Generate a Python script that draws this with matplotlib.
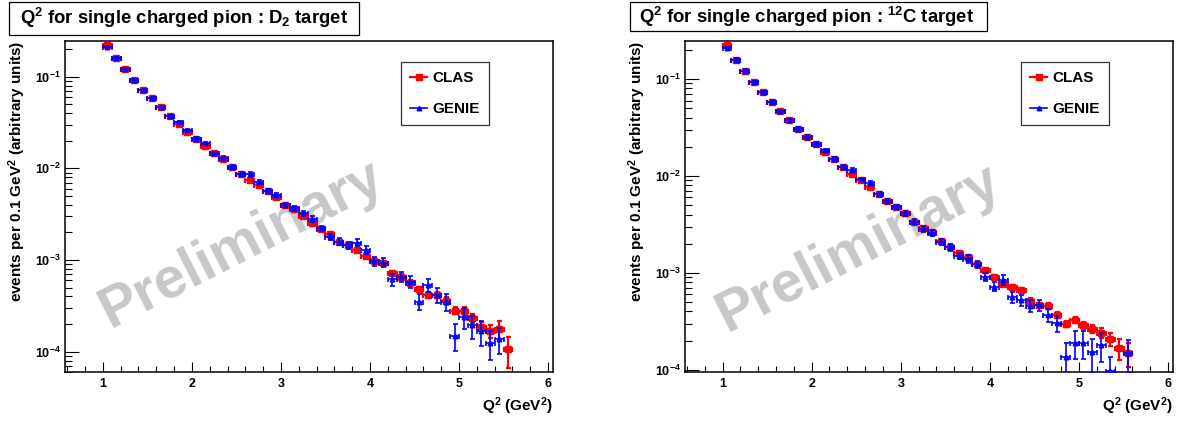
import numpy as np
import matplotlib
matplotlib.use("Agg")
import matplotlib.pyplot as plt
from matplotlib.patches import Rectangle
from matplotlib.lines import Line2D
from matplotlib.ticker import LogLocator, MultipleLocator, FuncFormatter, NullFormatter

plt.rcParams['font.family'] = ['Liberation Sans', 'DejaVu Sans']
plt.rcParams['font.weight'] = 'bold'
plt.rcParams['mathtext.fontset'] = 'custom'
plt.rcParams['mathtext.rm'] = 'Liberation Sans:bold'
plt.rcParams['mathtext.bf'] = 'Liberation Sans:bold'
plt.rcParams['mathtext.it'] = 'Liberation Sans:bold'
plt.rcParams['mathtext.default'] = 'bf'

# ---------------- data ----------------
bin_centers = [1.05, 1.15, 1.25, 1.35, 1.45, 1.55, 1.65, 1.75, 1.85, 1.95,
               2.05, 2.15, 2.25, 2.35, 2.45, 2.55, 2.65, 2.75, 2.85, 2.95,
               3.05, 3.15, 3.25, 3.35, 3.45, 3.55, 3.65, 3.75, 3.85, 3.95,
               4.05, 4.15, 4.25, 4.35, 4.45, 4.55, 4.65, 4.75, 4.85, 4.95,
               5.05, 5.15, 5.25, 5.35, 5.45, 5.55]
bin_half_width = 0.05

# D2 target
d2_clas = [0.222, 0.158, 0.120, 0.092, 0.0716, 0.058, 0.0464, 0.0372, 0.0305, 0.0249,
           0.0211, 0.01754, 0.01459, 0.01256, 0.01045, 0.00869, 0.00747, 0.00659, 0.00567, 0.00487,
           0.00398, 0.00360, 0.00302, 0.00256, 0.00218, 0.00191, 0.00159, 0.00146, 0.00129, 0.00111,
           0.000977, 0.00092, 0.000728, 0.000659, 0.000566, 0.000480, 0.000416, 0.000416, 0.000361, 0.000281,
           0.000281, 0.000232, 0.000188, 0.000169, 0.000176, 0.000106]
d2_clas_relerr = [0.02, 0.02, 0.02, 0.02, 0.02, 0.02, 0.02, 0.02, 0.02, 0.02,
                  0.02, 0.02, 0.02, 0.02, 0.02, 0.02, 0.02, 0.02, 0.02, 0.02,
                  0.03, 0.03, 0.03, 0.03, 0.03, 0.04, 0.04, 0.04, 0.04, 0.04,
                  0.05, 0.05, 0.05, 0.06, 0.06, 0.07, 0.07, 0.08, 0.08, 0.09,
                  0.10, 0.11, 0.13, 0.16, 0.22, 0.37]
d2_genie = [0.209, 0.158, 0.120, 0.092, 0.0716, 0.058, 0.0464, 0.0372, 0.0321, 0.0262,
            0.0211, 0.01875, 0.01459, 0.01309, 0.01045, 0.00869, 0.00869, 0.0071, 0.00567, 0.00516,
            0.00398, 0.00366, 0.00323, 0.00281, 0.00222, 0.00180, 0.00159, 0.00146, 0.00155, 0.00129,
            0.000977, 0.000937, 0.000616, 0.000659, 0.000581, 0.000352, 0.000535, 0.000416, 0.000352, 0.000150,
            0.000238, 0.000193, 0.000166, 0.000124, 0.000137, np.nan]
d2_genie_relerr = [0.03, 0.03, 0.03, 0.03, 0.03, 0.03, 0.03, 0.03, 0.03, 0.03,
                   0.03, 0.03, 0.04, 0.04, 0.04, 0.04, 0.05, 0.05, 0.05, 0.05,
                   0.06, 0.06, 0.07, 0.07, 0.07, 0.08, 0.08, 0.09, 0.09, 0.10,
                   0.11, 0.11, 0.15, 0.13, 0.14, 0.20, 0.17, 0.18, 0.22, 0.33,
                   0.26, 0.28, 0.30, 0.35, 0.32, np.nan]

# 12C target
c12_clas = [0.224, 0.158, 0.122, 0.0931, 0.0729, 0.0583, 0.0468, 0.0378, 0.0308, 0.0254,
            0.0215, 0.0178, 0.0150, 0.01247, 0.0105, 0.0091, 0.00764, 0.00652, 0.00548, 0.00483,
            0.00412, 0.00338, 0.00289, 0.00262, 0.00214, 0.00187, 0.00162, 0.00145, 0.00123, 0.00106,
            0.000902, 0.000770, 0.000712, 0.000668, 0.000519, 0.000461, 0.000457, 0.000369, 0.000298, 0.000327,
            0.000288, 0.000265, 0.000241, 0.000209, 0.000168, 0.000149]
c12_clas_relerr = [0.02, 0.02, 0.02, 0.02, 0.02, 0.02, 0.02, 0.02, 0.02, 0.02,
                   0.02, 0.02, 0.02, 0.02, 0.02, 0.02, 0.02, 0.02, 0.02, 0.02,
                   0.03, 0.03, 0.03, 0.03, 0.03, 0.03, 0.04, 0.04, 0.04, 0.04,
                   0.05, 0.05, 0.05, 0.05, 0.06, 0.06, 0.07, 0.07, 0.07, 0.07,
                   0.08, 0.10, 0.12, 0.16, 0.24, 0.28]
c12_genie = [0.210, 0.158, 0.122, 0.0931, 0.0729, 0.0583, 0.0468, 0.0378, 0.0308, 0.0254,
             0.0215, 0.0185, 0.0150, 0.01247, 0.01153, 0.00925, 0.00853, 0.00652, 0.00548, 0.00483,
             0.00412, 0.00338, 0.00285, 0.00258, 0.00210, 0.00183, 0.00150, 0.00139, 0.00123, 0.000916,
             0.000723, 0.000847, 0.000561, 0.000527, 0.000457, 0.000461, 0.000365, 0.000303, 0.000137, 0.000191,
             0.000191, 0.000151, 0.000181, 0.0000977, np.nan, 0.000149]
c12_genie_relerr = [0.03, 0.03, 0.03, 0.03, 0.03, 0.03, 0.03, 0.03, 0.03, 0.03,
                    0.03, 0.03, 0.04, 0.04, 0.04, 0.04, 0.05, 0.05, 0.05, 0.05,
                    0.06, 0.06, 0.07, 0.07, 0.07, 0.08, 0.08, 0.09, 0.09, 0.10,
                    0.11, 0.11, 0.12, 0.13, 0.14, 0.13, 0.15, 0.18, 0.37, 0.32,
                    0.32, 0.38, 0.33, 0.40, np.nan, 0.37]

panels = [
    dict(title=r"Q$^{2}$ for single charged pion : D$_{2}$ target",
         clas=d2_clas, clas_err=d2_clas_relerr, genie=d2_genie, genie_err=d2_genie_relerr,
         ylim=(6.0e-5, 0.245)),
    dict(title=r"Q$^{2}$ for single charged pion : $^{12}$C target",
         clas=c12_clas, clas_err=c12_clas_relerr, genie=c12_genie, genie_err=c12_genie_relerr,
         ylim=(9.5e-5, 0.2466)),
]
series_labels = ["CLAS", "GENIE"]
xlabel = r"Q$^{2}$ (GeV$^{2}$)"
ylabel = r"events per 0.1 GeV$^{2}$ (arbitrary units)"
watermark = "Preliminary"

# ---------------- layout ----------------
W, H = 1181, 421
fig = plt.figure(figsize=(W / 100, H / 100), dpi=100)

axes_px = [(65, 553), (684.7, 1173)]
top_px, bot_px = 41, 372
title_boxes = [(9, 2, 359, 35, 184, 24), (630, 2, 987, 31, 807, 23)]
wm_pos = [(0.361, 0.385), (0.355, 0.372)]

x = np.array(bin_centers)
for i, p in enumerate(panels):
    l, r = axes_px[i]
    ax = fig.add_axes([l / W, 1 - bot_px / H, (r - l) / W, (bot_px - top_px) / H])
    ax.set_yscale('log')
    ax.set_xlim(0.575, 6.055)
    ax.set_ylim(*p['ylim'])

    cl = np.array(p['clas']); ce = np.array(p['clas_err'])
    gn = np.array(p['genie']); ge = np.array(p['genie_err'])
    ax.errorbar(x, cl, yerr=cl * ce, xerr=bin_half_width, fmt='s', color='#ff0000',
                ms=3.8, elinewidth=1.6, capsize=1.8, capthick=1.6, zorder=3)
    m = ~np.isnan(gn)
    ax.errorbar(x[m], gn[m], yerr=gn[m] * ge[m], xerr=bin_half_width, fmt='^', color='#0000ff',
                ms=3.3, elinewidth=1.2, capsize=1.8, capthick=1.2, zorder=4)

    ax.text(wm_pos[i][0], wm_pos[i][1], watermark, transform=ax.transAxes, rotation=27,
            fontsize=41, fontweight='bold', color='#c8c8c8', ha='center', va='center', zorder=1)

    for s in ax.spines.values():
        s.set_linewidth(1.1)
    ax.xaxis.set_major_locator(MultipleLocator(1))
    ax.xaxis.set_minor_locator(MultipleLocator(0.2))
    ax.yaxis.set_major_locator(LogLocator(base=10, numticks=20))
    ax.yaxis.set_minor_locator(LogLocator(base=10, subs=np.arange(2, 10), numticks=20))
    ax.yaxis.set_minor_formatter(NullFormatter())
    ax.yaxis.set_major_formatter(FuncFormatter(lambda v, pos: r"$10^{%d}$" % int(round(np.log10(v)))))
    ax.xaxis.set_major_formatter(FuncFormatter(lambda v, pos: "%d" % int(round(v))))
    ax.tick_params(axis='x', which='major', direction='in', length=7.5, width=0.8, labelsize=9, pad=4)
    ax.tick_params(axis='x', which='minor', direction='in', length=4, width=0.8)
    ax.tick_params(axis='y', which='major', direction='in', length=10, width=0.8, labelsize=9, pad=3)
    ax.tick_params(axis='y', which='minor', direction='in', length=5, width=0.8)
    for lab in ax.get_xticklabels() + ax.get_yticklabels():
        lab.set_fontweight('bold')

    ax.set_xlabel(xlabel, fontsize=11, fontweight='bold', loc='right')
    ax.xaxis.set_label_coords(1.0, -0.072)
    ax.set_ylabel(ylabel, fontsize=11, fontweight='bold', loc='top', va='center')
    ax.yaxis.set_label_coords(-0.097, 1.0)

    handles = [Line2D([], [], color='#ff0000', marker='s', ms=3.8, lw=1.6),
               Line2D([], [], color='#0000ff', marker='^', ms=3.3, lw=1.2)]
    leg = ax.legend(handles, series_labels, loc='upper left', bbox_to_anchor=(0.688, 0.9375),
                    borderaxespad=0, frameon=True, fancybox=False, edgecolor='black',
                    handlelength=1.1, handletextpad=0.35, labelspacing=1.1, borderpad=0.62,
                    prop={'weight': 'bold', 'size': 11})
    leg.get_frame().set_linewidth(0.9)
    leg.set_zorder(5)

    x0, y0, x1, y1, tcx, tby = title_boxes[i]
    fig.patches.append(Rectangle((x0 / W, 1 - y1 / H), (x1 - x0) / W, (y1 - y0) / H,
                                 transform=fig.transFigure, fill=True, facecolor='white',
                                 edgecolor='black', linewidth=0.9))
    fig.text(tcx / W, 1 - tby / H, p['title'], ha='center', va='baseline',
             fontsize=13.3, fontweight='bold')

fig.savefig("out.png", dpi=100, facecolor='white')
